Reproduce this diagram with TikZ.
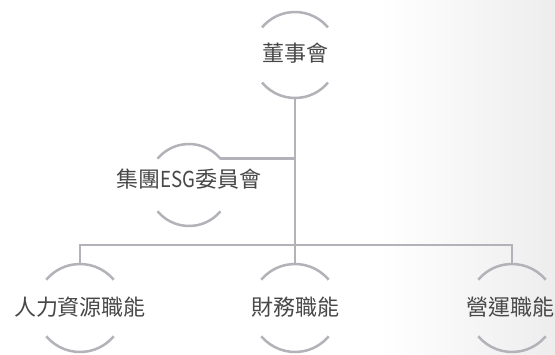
\documentclass[tikz,border=0pt]{standalone}
\usepackage{fontspec}
\newfontfamily\cjk{Noto Sans CJK TC}
\definecolor{linegray}{RGB}{178,178,184}
\definecolor{txtgray}{RGB}{72,72,72}
\begin{document}
\begin{tikzpicture}[x=1pt,y=1pt,
  unit/.style={shape=rectangle,inner sep=0pt,font=\cjk\fontsize{22}{26}\selectfont,text=txtgray},
  arcline/.style={draw=linegray,line width=2.5pt},
  conn/.style={draw=linegray,line width=2.5pt}]
\useasboundingbox (0,0) rectangle (555,354);
\fill[white] (0,0) rectangle (380,354);
\shade[left color=white,right color=black!7] (380,0) rectangle (555,354);
% nodes
\node[unit] (board) at (295,301) {董事會};
\node[unit] (esg) at (189,175) {集團\scalebox{0.85}[1]{ESG}委員會};
\node[unit] (hr) at (80,47) {人力資源職能};
\node[unit] (fin) at (295,47) {財務職能};
\node[unit] (ops) at (510,47) {營運職能};
% arcs
\foreach \n/\r/\dy/\dx in {board/43/-2/0,esg/41/-6/0,hr/44/-1/0,fin/44/-1/0,ops/44/-1/2}{
  \draw[arcline] ([shift={(40:\r pt)},yshift=\dy pt,xshift=\dx pt]\n.center) arc[start angle=40,end angle=140,radius=\r pt];
  \draw[arcline] ([shift={(220:\r pt)},yshift=\dy pt,xshift=\dx pt]\n.center) arc[start angle=220,end angle=320,radius=\r pt];
}
% connection points
\coordinate (boardbot) at ([yshift=-45pt]board.center);
\coordinate (esgtop) at ([shift={(40:41pt)},yshift=-6pt]esg.center);
\coordinate (hrtop) at ([yshift=43pt]hr.center);
\coordinate (fintop) at ([yshift=43pt]fin.center);
\coordinate (opstop) at ([yshift=43pt,xshift=2pt]ops.center);
\coordinate (bar) at (295,109);
% connectors
\draw[conn] (boardbot) -- (fintop);
\draw[conn] (esgtop) -- (esgtop -| boardbot);
\draw[conn] (hrtop) |- (bar) -| (opstop);
\end{tikzpicture}
\end{document}
